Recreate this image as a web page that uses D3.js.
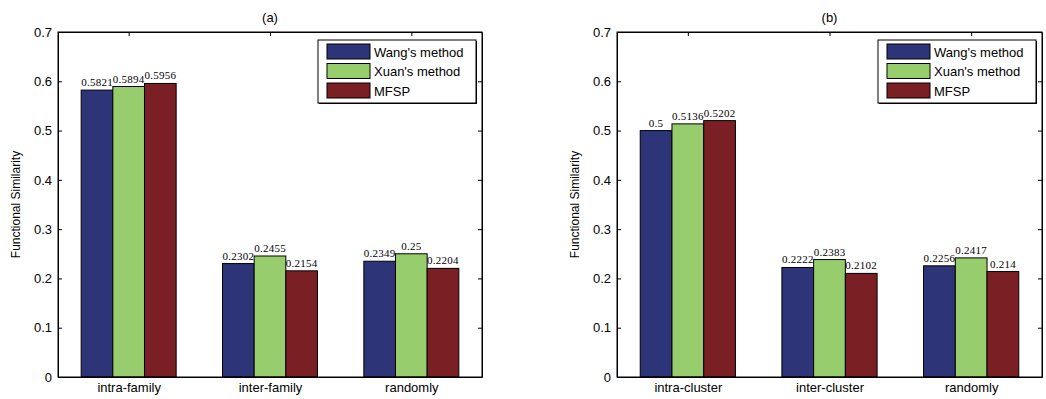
<!DOCTYPE html>
<html><head><meta charset="utf-8">
<script src="https://cdn.jsdelivr.net/npm/d3@7"></script>
<style>body{margin:0;background:#fff}svg{display:block}</style>
</head><body>
<svg id="c" width="1046" height="399"></svg>
<script>
const series = ["Wang's method", "Xuan's method", "MFSP"];
const colors = ["#2e3478", "#98cd6e", "#7a1f23"];
const categoriesA = ["intra-family", "inter-family", "randomly"];
const wangA = [0.5821, 0.2302, 0.2349];
const xuanA = [0.5894, 0.2455, 0.25];
const mfspA = [0.5956, 0.2154, 0.2204];
const labelsA = [["0.5821","0.2302","0.2349"],["0.5894","0.2455","0.25"],["0.5956","0.2154","0.2204"]];
const categoriesB = ["intra-cluster", "inter-cluster", "randomly"];
const wangB = [0.5, 0.2222, 0.2256];
const xuanB = [0.5136, 0.2383, 0.2417];
const mfspB = [0.5202, 0.2102, 0.214];
const labelsB = [["0.5","0.2222","0.2256"],["0.5136","0.2383","0.2417"],["0.5202","0.2102","0.214"]];
const yTicks = [0, 0.1, 0.2, 0.3, 0.4, 0.5, 0.6, 0.7];
const yLabel = "Functional Similarity";

const svg = d3.select("#c");

function panel(x0, x1, title, cats, vals, labels) {
  const top = 32, bottom = 377;
  const g = svg.append("g");
  const y = d3.scaleLinear().domain([0, 0.7]).range([bottom, top]);
  const xc = d3.scaleLinear().domain([0.5, 3.5]).range([x0, x1]);
  const unit = (x1 - x0) / 3;
  const bw = unit * 0.224;
  // bars
  vals.forEach((arr, s) => {
    arr.forEach((v, i) => {
      const cx = xc(i + 1) + (s - 1) * bw;
      g.append("rect").attr("x", cx - bw / 2).attr("y", y(v))
        .attr("width", bw).attr("height", y(0) - y(v))
        .attr("fill", colors[s]).attr("stroke", "#000").attr("stroke-width", 1);
      g.append("text").attr("x", cx).attr("y", y(v) - 4)
        .attr("text-anchor", "middle").attr("font-family", "'Liberation Serif', 'Times New Roman', serif")
        .attr("font-size", 11).attr("letter-spacing", 0.25).attr("fill", "#000").text(labels[s][i]);
    });
  });
  // axes
  const yAxis = d3.axisLeft(y).tickValues(yTicks).tickFormat(d => d === 0 ? "0" : d3.format(".1f")(d)).tickSizeInner(-4).tickSizeOuter(0).tickPadding(6);
  g.append("g").attr("transform", `translate(${x0},0)`).call(yAxis);
  const yAxisR = d3.axisRight(y).tickValues(yTicks).tickFormat("").tickSizeInner(-4).tickSizeOuter(0);
  g.append("g").attr("transform", `translate(${x1},0)`).call(yAxisR);
  const xAxis = d3.axisBottom(xc).tickValues([1, 2, 3]).tickFormat((d) => cats[d - 1]).tickSizeInner(0).tickSizeOuter(0).tickPadding(6);
  g.append("g").attr("transform", `translate(0,${bottom})`).call(xAxis);
  const xAxisT = d3.axisTop(xc).tickValues([1, 2, 3]).tickFormat("").tickSizeInner(-4).tickSizeOuter(0);
  g.append("g").attr("transform", `translate(0,${top})`).call(xAxisT);
  g.selectAll(".domain").attr("stroke", "#000");
  g.selectAll(".tick line").attr("stroke", "#000");
  g.selectAll(".tick text").attr("font-family", "'Liberation Sans', Arial, sans-serif").attr("font-size", 13).attr("fill", "#000");
  g.append("rect").attr("x", x0).attr("y", top).attr("width", x1 - x0).attr("height", bottom - top)
    .attr("fill", "none").attr("stroke", "#000").attr("stroke-width", 1);
  // title
  g.append("text").attr("x", (x0 + x1) / 2).attr("y", 22).attr("text-anchor", "middle")
    .attr("font-family", "'Liberation Sans', Arial, sans-serif").attr("font-size", 13).text(title);
  // y label
  g.append("text").attr("transform", `translate(${x0 - 38},${(top + bottom) / 2}) rotate(-90)`)
    .attr("text-anchor", "middle").attr("font-family", "'Liberation Sans', Arial, sans-serif")
    .attr("font-size", 12).text(yLabel);
  // legend
  const lx = x1 - 164, ly = 40, lw = 158, lh = 63;
  g.append("rect").attr("x", lx + 1).attr("y", ly + 1).attr("width", lw).attr("height", lh).attr("fill", "#000");
  g.append("rect").attr("x", lx).attr("y", ly).attr("width", lw).attr("height", lh).attr("fill", "#fff").attr("stroke", "#000");
  series.forEach((s, i) => {
    const ry = ly + 4 + i * 19.5;
    g.append("rect").attr("x", lx + 9).attr("y", ry).attr("width", 43).attr("height", 15)
      .attr("fill", colors[i]).attr("stroke", "#000");
    g.append("text").attr("x", lx + 56).attr("y", ry + 12.5)
      .attr("font-family", "'Liberation Sans', Arial, sans-serif").attr("font-size", 13).text(s);
  });
}

panel(58, 482, "(a)", categoriesA, [wangA, xuanA, mfspA], labelsA);
panel(617, 1042, "(b)", categoriesB, [wangB, xuanB, mfspB], labelsB);
</script>
</body></html>
